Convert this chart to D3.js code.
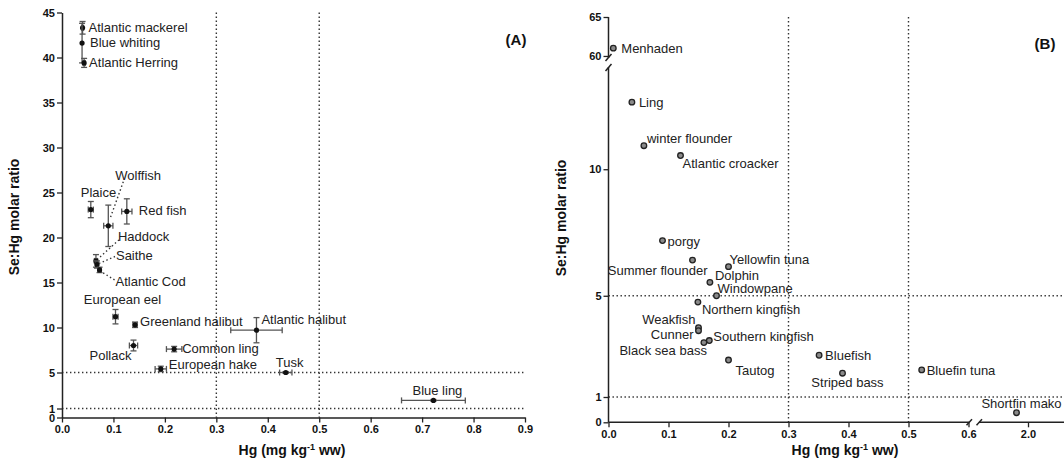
<!DOCTYPE html>
<html>
<head>
<meta charset="utf-8">
<script src="https://cdn.jsdelivr.net/npm/d3@7"></script>
<style>
  body { margin: 0; background: #fff; }
  svg { display: block; font-family: Arial, "Liberation Sans", sans-serif; }
</style>
</head>
<body>
<div id="chart"></div>
<script>
// ---- panel A data (mean Hg, Se:Hg ratio, with error) ----
const fishA = ["Atlantic mackerel", "Blue whiting", "Atlantic Herring", "Plaice", "Wolffish",
  "Red fish", "Haddock", "Saithe", "Atlantic Cod", "European eel", "Greenland halibut",
  "Atlantic halibut", "Pollack", "Common ling", "European hake", "Tusk", "Blue ling"];
const hgA =      [0.040, 0.039, 0.043, 0.056, 0.090, 0.126, 0.066, 0.068, 0.073, 0.104, 0.142, 0.378, 0.139, 0.218, 0.192, 0.435, 0.722];
const hgErrA =   [0.002, 0.000, 0.002, 0.005, 0.009, 0.010, 0.003, 0.003, 0.003, 0.005, 0.004, 0.050, 0.008, 0.015, 0.011, 0.012, 0.062];
const ratioA =   [43.3, 41.6, 39.4, 23.1, 21.3, 22.9, 17.4, 17.0, 16.4, 11.2, 10.3, 9.7, 8.0, 7.6, 5.4, 5.0, 1.9];
const ratioErrA = [0.7, 2.2, 0.5, 0.9, 2.3, 1.4, 0.7, 0.4, 0.3, 0.8, 0.3, 1.4, 0.6, 0.3, 0.3, 0.1, 0.1];
const yTicksA = [0, 1, 5, 10, 15, 20, 25, 30, 35, 40, 45];
const xTicksA = [0, 0.1, 0.2, 0.3, 0.4, 0.5, 0.6, 0.7, 0.8, 0.9];

// ---- panel B data ----
const fishB = ["Menhaden", "Ling", "winter flounder", "Atlantic croacker", "porgy", "Summer flounder",
  "Yellowfin tuna", "Dolphin", "Windowpane", "Northern kingfish", "Weakfish", "Cunner",
  "Southern kingfish", "Black sea bass", "Tautog", "Bluefish", "Striped bass", "Bluefin tuna", "Shortfin mako"];
const hgB =    [0.008, 0.039, 0.059, 0.120, 0.090, 0.140, 0.200, 0.169, 0.180, 0.149, 0.150, 0.150, 0.168, 0.159, 0.200, 0.351, 0.390, 0.522, 1.90];
const ratioB = [61.0, 12.65, 10.93, 10.54, 7.18, 6.41, 6.15, 5.53, 5.0, 4.75, 3.74, 3.62, 3.23, 3.15, 2.46, 2.65, 1.94, 2.07, 0.38];
const yTicksBLow = [0, 1, 5, 10];
const yTicksBHigh = [60, 65];
const xTicksBLow = [0, 0.1, 0.2, 0.3, 0.4, 0.5, 0.6];
const xTicksBHigh = [2.0];

// label placement: [dx, dy, anchor] relative to the point
const labelA = {
  "Atlantic mackerel": [6, 4, "start"], "Blue whiting": [8, 4, "start"], "Atlantic Herring": [5, 4, "start"],
  "Plaice": [-10, -13, "start"], "Wolffish": [7, -46, "start"], "Red fish": [12, 4, "start"],
  "Haddock": [22, -20, "start"], "Saithe": [19, -5, "start"], "Atlantic Cod": [16, 16, "start"],
  "European eel": [7, -13, "middle"], "Greenland halibut": [5, 1, "start"], "Atlantic halibut": [5, -6, "start"],
  "Pollack": [-2, 14, "end"], "Common ling": [8, 4, "start"], "European hake": [8, 0, "start"],
  "Tusk": [-10, -6, "start"], "Blue ling": [4, -5, "middle"]
};
// dotted leader lines: [x1, y1, x2, y2] offsets from the point
const leaderA = {
  "Wolffish": [15, -44, 2, -8], "Haddock": [23, -21, 2, -2],
  "Saithe": [18, -8, 2, -1], "Atlantic Cod": [15, 10, 2, 2]
};
const labelB = {
  "Menhaden": [8, 5, "start"], "Ling": [7, 5, "start"], "winter flounder": [3, -3, "start"],
  "Atlantic croacker": [2, 12, "start"], "porgy": [5, 5, "start"], "Summer flounder": [15, 15, "end"],
  "Yellowfin tuna": [1, -3, "start"], "Dolphin": [5, -2.5, "start"], "Windowpane": [1, -3, "start"],
  "Northern kingfish": [4, 12, "start"], "Weakfish": [-3, -4, "end"], "Cunner": [-5, 8, "end"],
  "Southern kingfish": [4, 0, "start"], "Black sea bass": [3, 12, "end"], "Tautog": [7, 15, "start"],
  "Bluefish": [6, 5, "start"], "Striped bass": [5, 14, "middle"], "Bluefin tuna": [5, 5, "start"],
  "Shortfin mako": [5, -5, "middle"]
};

const W = 1064, H = 470;
const font = "Arial, 'Liberation Sans', sans-serif";
const svg = d3.select("#chart").append("svg").attr("width", W).attr("height", H);
const ink = "#222";

function styleAxis(g) {
  g.attr("font-family", font);
  g.selectAll("text").attr("font-size", 11).attr("font-weight", "bold").attr("fill", "#111");
  g.selectAll("line").attr("stroke", ink).attr("stroke-width", 1.3);
  g.selectAll(".domain").attr("stroke", ink).attr("stroke-width", 1.5);
}

function dotted(x1, y1, x2, y2) {
  svg.append("line")
    .attr("x1", x1).attr("y1", y1).attr("x2", x2).attr("y2", y2)
    .attr("stroke", "#333").attr("stroke-width", 1.4)
    .attr("stroke-dasharray", "1.4,2.6");
}

function axisTitles(cx, yx, cy) {
  const t = svg.append("text")
    .attr("x", cx).attr("y", 455)
    .attr("text-anchor", "middle").attr("font-size", 14).attr("font-weight", "bold").attr("fill", "#111");
  t.append("tspan").text("Hg (mg kg");
  t.append("tspan").attr("dy", -5).attr("font-size", 9).text("-1");
  t.append("tspan").attr("dy", 5).text(" ww)");
  svg.append("text")
    .attr("transform", `translate(${yx},${cy}) rotate(-90)`)
    .attr("text-anchor", "middle").attr("font-size", 14).attr("font-weight", "bold").attr("fill", "#111")
    .text("Se:Hg molar ratio");
}

// ================= panel A =================
const xA = d3.scaleLinear().domain([0, 0.9]).range([62, 525]);
const yA = d3.scaleLinear().domain([0, 45]).range([417.5, 12.5]);

//reference lines
[0.3, 0.5].forEach(v => dotted(xA(v), yA(45), xA(v), yA(0)));
[5, 1].forEach(v => dotted(xA(0), yA(v), xA(0.9), yA(v)));

svg.append("g").attr("transform", `translate(0,${yA(0)})`)
  .call(d3.axisBottom(xA).tickValues(xTicksA).tickFormat(d3.format(".1f")).tickSize(5).tickSizeOuter(0))
  .call(styleAxis);
svg.append("g").attr("transform", `translate(${xA(0)},0)`)
  .call(d3.axisLeft(yA).tickValues(yTicksA).tickFormat(d3.format("d")).tickSize(5).tickSizeOuter(0).tickPadding(2))
  .call(styleAxis);

const dataA = fishA.map((f, i) => ({ name: f, x: hgA[i], xe: hgErrA[i], y: ratioA[i], ye: ratioErrA[i] }));
const cap = 3;
const gA = svg.append("g");
dataA.forEach(d => {
  const px = xA(d.x), py = yA(d.y);
  const bar = (x1, y1, x2, y2) => gA.append("line")
    .attr("x1", x1).attr("y1", y1).attr("x2", x2).attr("y2", y2)
    .attr("stroke", "#555").attr("stroke-width", 1.3);
  if (d.ye > 0) {
    bar(px, yA(d.y - d.ye), px, yA(d.y + d.ye));
    bar(px - cap, yA(d.y - d.ye), px + cap, yA(d.y - d.ye));
    bar(px - cap, yA(d.y + d.ye), px + cap, yA(d.y + d.ye));
  }
  if (d.xe > 0) {
    bar(xA(d.x - d.xe), py, xA(d.x + d.xe), py);
    bar(xA(d.x - d.xe), py - cap, xA(d.x - d.xe), py + cap);
    bar(xA(d.x + d.xe), py - cap, xA(d.x + d.xe), py + cap);
  }
  gA.append("circle").attr("cx", px).attr("cy", py).attr("r", 2.6).attr("fill", "#111");

  const lp = labelA[d.name];
  gA.append("text")
    .attr("x", px + lp[0]).attr("y", py + lp[1])
    .attr("text-anchor", lp[2]).attr("font-size", 13).attr("fill", ink)
    .text(d.name);
  const ld = leaderA[d.name];
  if (ld) dotted(px + ld[0], py + ld[1], px + ld[2], py + ld[3]);
});

svg.append("text").attr("x", 516).attr("y", 45).attr("text-anchor", "middle")
  .attr("font-size", 15).attr("font-weight", "bold").attr("fill", "#111").text("(A)");
axisTitles(292, 19, 217);

// ================= panel B (broken axes) =================
const xB = d3.scaleLinear().domain([0, 0.6]).range([608.5, 968.5]);
const xB2 = d3.scaleLinear().domain([1.6, 2.4]).range([982, 1074]);
const yB = d3.scaleLinear().domain([0, 14]).range([422.3, 68]);
const yB2 = d3.scaleLinear().domain([59.7, 65]).range([58.3, 17]);
const xPos = v => (v > 1 ? xB2(v) : xB(v));
const yPos = v => (v > 30 ? yB2(v) : yB(v));

[0.3, 0.5].forEach(v => dotted(xB(v), yB2(65), xB(v), yB(0)));
[5, 1].forEach(v => dotted(xB(0), yB(v), W, yB(v)));

const axB = svg.append("g");
axB.append("g").attr("transform", `translate(0,${yB(0)})`)
  .call(d3.axisBottom(xB).tickValues(xTicksBLow).tickFormat(d3.format(".1f")).tickSize(5).tickSizeOuter(0))
  .call(styleAxis).call(g => g.select(".domain").remove());
axB.append("g").attr("transform", `translate(0,${yB(0)})`)
  .call(d3.axisBottom(xB2).tickValues(xTicksBHigh).tickFormat(d3.format(".1f")).tickSize(5).tickSizeOuter(0))
  .call(styleAxis).call(g => g.select(".domain").remove());
axB.append("g").attr("transform", `translate(${xB(0)},0)`)
  .call(d3.axisLeft(yB).tickValues(yTicksBLow).tickFormat(d3.format("d")).tickSize(5).tickSizeOuter(0).tickPadding(2))
  .call(styleAxis).call(g => g.select(".domain").remove());
axB.append("g").attr("transform", `translate(${xB(0)},0)`)
  .call(d3.axisLeft(yB2).tickValues(yTicksBHigh).tickFormat(d3.format("d")).tickSize(5).tickSizeOuter(0).tickPadding(2))
  .call(styleAxis).call(g => g.select(".domain").remove());

const axisLine = (x1, y1, x2, y2) => axB.append("line")
  .attr("x1", x1).attr("y1", y1).attr("x2", x2).attr("y2", y2)
  .attr("stroke", ink).attr("stroke-width", 1.5);
// axis lines with breaks
axisLine(xB(0), yB(0), 969.5, yB(0));
axisLine(979, yB(0), W, yB(0));
axisLine(xB(0), yB(0), xB(0), 67);
axisLine(xB(0), 58, xB(0), yB2(65));
// break marks
axisLine(966.5, yB(0) + 3, 972, yB(0) - 3);
axisLine(976.5, yB(0) + 3, 982, yB(0) - 3);
axisLine(xB(0) - 3, 61, xB(0) + 3, 54);
axisLine(xB(0) - 3, 71, xB(0) + 3, 64);

const gB = svg.append("g");
fishB.forEach((f, i) => {
  const px = xPos(hgB[i]), py = yPos(ratioB[i]);
  gB.append("circle").attr("cx", px).attr("cy", py).attr("r", 2.8)
    .attr("fill", "#8a8a8a").attr("stroke", "#222").attr("stroke-width", 1.3);
  const lp = labelB[f];
  gB.append("text")
    .attr("x", px + lp[0]).attr("y", py + lp[1])
    .attr("text-anchor", lp[2]).attr("font-size", 13).attr("fill", ink)
    .text(f);
});

svg.append("text").attr("x", 1045).attr("y", 49).attr("text-anchor", "middle")
  .attr("font-size", 15).attr("font-weight", "bold").attr("fill", "#111").text("(B)");
axisTitles(845, 566, 218);
</script>
</body>
</html>
